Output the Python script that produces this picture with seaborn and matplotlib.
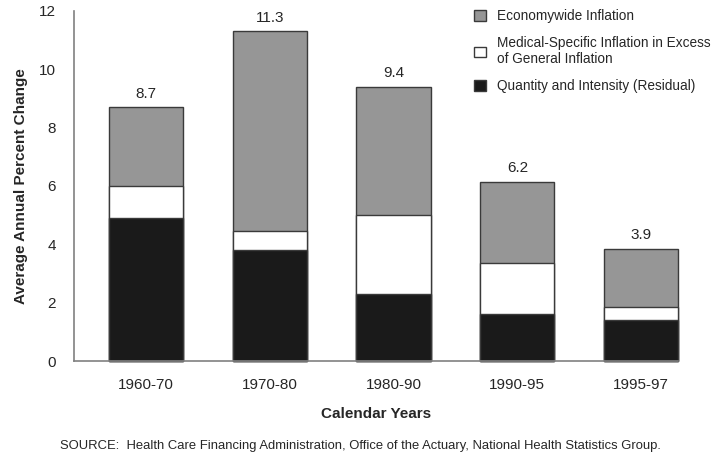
import numpy as np
import pandas as pd
import seaborn as sns
import matplotlib.pyplot as plt
from matplotlib.patches import Patch

periods = ['1960-70', '1970-80', '1980-90', '1990-95', '1995-97']
quantity = [4.9, 3.8, 2.3, 1.6, 1.4]
medical = [1.1, 0.65, 2.7, 1.75, 0.45]
economy = [2.7, 6.85, 4.4, 2.8, 2.0]
totals = ['8.7', '11.3', '9.4', '6.2', '3.9']

sns.set_theme(style='white')
plt.rcParams['font.family'] = ['Liberation Sans', 'DejaVu Sans']

df = pd.DataFrame({'period': periods, 'quantity': quantity,
                   'medical': medical, 'economy': economy})
df['low'] = df['quantity']
df['mid'] = df['quantity'] + df['medical']
df['top'] = df['mid'] + df['economy']

fig, ax = plt.subplots(figsize=(7.2, 4.57), dpi=100)
edge = '#3a3a3a'

# draw tallest first so the shorter layers sit on top
for col, fc in [('top', '#969696'), ('mid', 'white'), ('low', '#1a1a1a')]:
    sns.barplot(data=df, x='period', y=col, color=fc, width=0.6,
                saturation=1, edgecolor=edge, linewidth=1, ax=ax)
for p in ax.patches:
    p.set_clip_on(False)

for i, t in enumerate(totals):
    ax.text(i, df['top'][i] + 0.22, t, ha='center', va='bottom', fontsize=11)

ax.set_ylim(0, 12)
ax.set_xlim(-0.58, 4.3)
ax.set_yticks(range(0, 13, 2))
ax.tick_params(axis='y', length=10, width=1, color='#808080', labelsize=11, pad=3)
ax.tick_params(axis='x', length=0, labelsize=11, pad=12)
for s in ['top', 'right']:
    ax.spines[s].set_visible(False)
for s in ['left', 'bottom']:
    ax.spines[s].set_color('#808080')
    ax.spines[s].set_linewidth(1.2)

ax.set_ylabel('Average Annual Percent Change', fontsize=11, fontweight='bold', labelpad=8)
ax.set_xlabel('Calendar Years', fontsize=11, fontweight='bold', labelpad=11)

handles = [Patch(facecolor='#969696', edgecolor=edge, label='Economywide Inflation'),
           Patch(facecolor='white', edgecolor=edge,
                 label='Medical-Specific Inflation in Excess\nof General Inflation'),
           Patch(facecolor='#1a1a1a', edgecolor=edge, label='Quantity and Intensity (Residual)')]
ax.legend(handles=handles, loc='upper left', bbox_to_anchor=(0.642, 1.04), frameon=False,
          fontsize=9.8, handlelength=0.85, handleheight=0.85, handletextpad=0.8,
          labelspacing=0.95)

fig.text(0.5, 0.017, 'SOURCE:  Health Care Financing Administration, Office of the Actuary, '
         'National Health Statistics Group.', ha='center', fontsize=9.4)

fig.subplots_adjust(left=0.103, right=0.942, top=0.976, bottom=0.21)
fig.savefig('out.png', dpi=100)
